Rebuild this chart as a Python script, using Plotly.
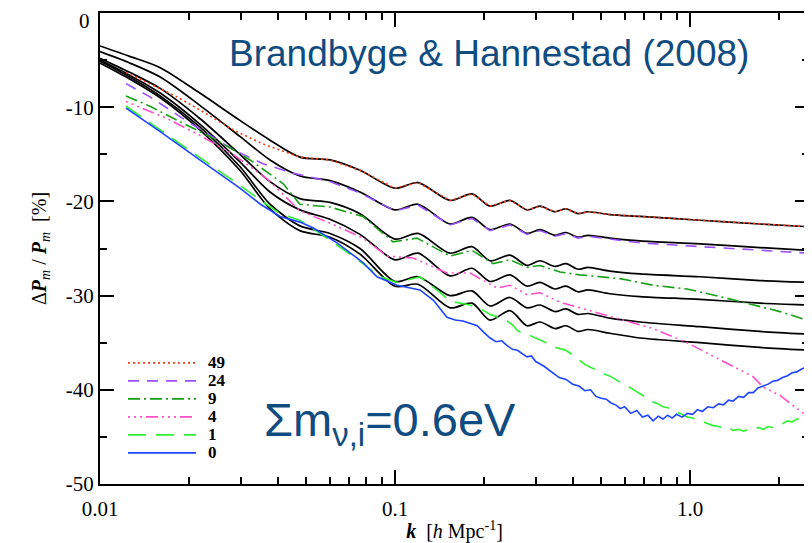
import plotly.graph_objects as go

# ---------------- data ----------------
# linear-theory (black) curves, common k grid  [h/Mpc]
K_LIN = [0.0100, 0.0126, 0.0160, 0.0218, 0.0298, 0.0377, 0.0476, 0.0602, 0.0761, 0.1000,
         0.1197, 0.1537, 0.1824, 0.2099, 0.2454, 0.2803, 0.3101, 0.3487, 0.3799, 0.4173,
         0.4511, 0.5356, 0.6770, 1.081, 1.727, 2.55]
LIN_49 = [-3.5, -4.6, -5.8, -8.5, -11.4, -13.5, -15.3, -15.6, -16.7, -18.6, -18.0, -19.9, -19.2,
          -20.5, -19.9, -20.9, -20.5, -21.1, -20.8, -21.3, -21.1, -21.4, -21.6, -22.0, -22.4, -22.7]
LIN_24 = [-4.1, -5.3, -6.8, -9.8, -13.1, -15.6, -17.3, -17.8, -19.0, -20.9, -20.3, -22.4, -21.7,
          -23.0, -22.4, -23.4, -23.0, -23.6, -23.3, -23.8, -23.6, -23.9, -24.2, -24.5, -24.9, -25.2]
LIN_9 = [-4.8, -6.3, -8.0, -11.2, -15.0, -17.9, -19.7, -20.1, -21.3, -24.0, -23.4, -25.5, -24.8,
         -26.3, -25.7, -26.8, -26.3, -26.9, -26.6, -27.2, -27.0, -27.4, -27.7, -28.0, -28.4, -28.6]
LIN_4 = [-5.0, -6.6, -8.5, -11.8, -15.8, -19.0, -20.9, -21.9, -23.5, -26.2, -25.5, -27.9, -27.1,
         -28.5, -27.8, -29.0, -28.6, -29.3, -29.0, -29.6, -29.4, -29.8, -30.1, -30.4, -30.8, -31.0]
LIN_1 = [-5.1, -6.8, -8.8, -12.1, -16.3, -20.3, -22.6, -23.4, -25.0, -28.5, -28.0, -30.0, -29.5,
         -31.1, -30.2, -31.3, -31.0, -31.7, -31.4, -32.0, -31.9, -32.4, -32.8, -33.3, -33.8, -34.1]
LIN_0 = [-5.3, -7.0, -9.0, -12.4, -16.7, -20.8, -23.1, -23.8, -25.6, -29.0, -28.8, -31.3, -30.8,
         -32.6, -31.6, -33.2, -32.8, -33.5, -33.2, -33.8, -33.6, -34.0, -34.5, -35.0, -35.5, -35.8]

# N-body (coloured) curves
K_49 = [0.01225, 0.01477, 0.01824, 0.02183, 0.02824, 0.03568, 0.04511, 0.0476] + K_LIN[7:]
SIM_49 = [-6.3, -7.5, -8.9, -10.3, -12.4, -13.9, -15.0, -15.3] + [
    -15.6, -16.7, -18.6, -18.0, -19.9, -19.2, -20.5, -19.9, -20.9, -20.5, -21.1, -20.8,
    -21.3, -21.1, -21.4, -21.6, -22.0, -22.4, -22.7]

K_24 = [0.01225, 0.01477, 0.01867, 0.02305, 0.02824, 0.03568, 0.04511, 0.0602, 0.0761, 0.1000,
        0.1197, 0.1537, 0.1824, 0.2099, 0.2454, 0.2803, 0.3101, 0.3487, 0.3799, 0.4173,
        0.4511, 0.5356, 0.6770, 1.081, 1.727, 2.55]
SIM_24 = [-7.5, -8.9, -11.0, -12.8, -14.5, -16.0, -17.0, -17.9, -19.1, -21.0, -20.4, -22.5, -21.8,
          -23.1, -22.5, -23.5, -23.1, -23.7, -23.4, -23.9, -23.7, -24.0, -24.4, -24.8, -25.2, -25.5]

K_9 = [0.01225, 0.01477, 0.01911, 0.02493, 0.03225, 0.04172, 0.0476, 0.0602, 0.0779, 0.0985,
       0.1188, 0.1537, 0.1824, 0.2149, 0.2454, 0.2803, 0.3101, 0.3626, 0.4239, 0.4954,
       0.5790, 0.7492, 0.9768, 1.264, 1.635, 2.019, 2.49]
SIM_9 = [-8.8, -9.9, -11.7, -13.5, -15.6, -18.1, -20.3, -20.6, -21.6, -24.3, -23.9, -25.8, -25.2,
         -26.6, -26.2, -27.0, -26.8, -27.5, -27.8, -28.0, -28.2, -28.9, -29.3, -30.1, -31.0, -31.7, -32.6]

K_4 = [0.01225, 0.01687, 0.02183, 0.02824, 0.03683, 0.0476, 0.0602, 0.0779, 0.0940, 0.1151,
       0.1500, 0.1796, 0.2217, 0.2454, 0.2803, 0.3101, 0.3626, 0.4239, 0.5356, 0.6410,
       0.7492, 0.9768, 1.264, 1.635, 1.768, 2.019, 2.49]
SIM_4 = [-9.4, -11.2, -13.0, -15.0, -17.6, -21.0, -22.3, -23.9, -25.8, -26.0, -27.6, -27.6, -29.2,
         -28.9, -29.9, -29.7, -30.7, -31.3, -32.2, -32.9, -33.5, -35.0, -36.8, -38.6, -39.7, -40.6, -42.8]

K_HI = [0.16, 0.17, 0.18, 0.19, 0.20, 0.21, 0.22, 0.23, 0.24, 0.25, 0.26, 0.27, 0.28, 0.29, 0.30,
        0.32, 0.34, 0.36, 0.38, 0.40, 0.42, 0.44, 0.46, 0.48, 0.50, 0.52, 0.54, 0.56, 0.58, 0.60,
        0.63, 0.66, 0.69, 0.72, 0.75, 0.78, 0.81, 0.84, 0.87, 0.90, 0.94, 0.98, 1.02, 1.06, 1.10,
        1.15, 1.20, 1.25, 1.30, 1.35, 1.40, 1.46, 1.52, 1.58, 1.64, 1.70, 1.77, 1.84, 1.91, 1.98,
        2.06, 2.14, 2.22, 2.30, 2.39, 2.48, 2.53]

K_1_LO = [0.01225, 0.0160, 0.0218, 0.0298, 0.0362, 0.0408, 0.0476, 0.0602, 0.0779, 0.0890,
          0.1016, 0.1215, 0.1400, 0.1537, 0.1796]
SIM_1_LO = [-9.9, -12.4, -15.3, -18.3, -20.2, -21.3, -22.0, -24.1, -26.6, -28.0, -28.6, -28.0,
            -29.5, -30.6, -31.0]
SIM_1_HI = [-31.6, -32.0, -32.2, -32.6, -32.7, -33.1, -33.7, -34.0, -34.1, -34.3, -34.5,
            -34.9, -35.4, -35.6, -35.8, -36.3, -36.8, -37.3, -37.6, -37.9, -38.1, -38.4, -38.6,
            -38.9, -39.2, -39.5, -39.8, -40.2, -40.5, -40.9, -41.3, -41.5, -41.8, -41.9, -42.1,
            -42.4, -42.6, -42.9, -43.0, -43.2, -43.4, -43.6, -43.8, -43.9, -44.1, -44.0, -44.3,
            -44.2, -44.4, -44.2, -44.3, -44.0, -44.2, -43.9, -44.0, -43.7, -43.6, -43.3, -43.4,
            -43.1, -43.2, -42.9, -43.0]
K_1_HI = K_HI[4:]

K_0_LO = [0.01225, 0.0160, 0.0218, 0.0298, 0.0350, 0.0408, 0.0476, 0.0527, 0.0636, 0.0779,
          0.0869, 0.1016, 0.1215, 0.1350, 0.1500]
SIM_0_LO = [-10.1, -12.6, -15.6, -18.6, -20.3, -21.6, -22.2, -22.8, -24.4, -26.5, -28.0, -28.9,
            -29.4, -30.5, -32.3]
SIM_0_HI = [-32.6, -32.7, -33.0, -33.2, -33.9, -34.5, -34.9, -34.8, -35.3, -35.7, -35.8, -36.2,
            -36.5, -36.4, -37.0, -37.5, -38.1, -38.7, -38.9, -39.4, -39.6, -40.1, -40.0, -40.7,
            -40.9, -41.0, -41.4, -41.6, -42.0, -41.8, -42.5, -42.2, -42.9, -42.7, -43.3, -42.8,
            -43.1, -42.7, -43.0, -42.6, -42.9, -42.5, -42.6, -42.1, -42.3, -41.8, -41.9, -41.5,
            -41.6, -41.1, -41.2, -40.7, -40.8, -40.3, -40.3, -39.8, -39.6, -39.4, -39.1, -39.0,
            -38.7, -38.5, -38.2, -38.1, -37.8, -37.6, -37.4]

LEGEND_LABELS = ["49", "24", "9", "4", "1", "0"]
Y_TICKS = [0, -10, -20, -30, -40, -50]
Y_TICK_TEXT = ["", "-10", "-20", "-30", "-40", "-50"]   # "0" drawn as an annotation (see below)
X_TICKS = [0.01, 0.1, 1.0]
X_TICK_TEXT = ["0.01", "0.1", "1.0"]
X_MINOR = [0.02, 0.03, 0.04, 0.05, 0.06, 0.07, 0.08, 0.09,
           0.2, 0.3, 0.4, 0.5, 0.6, 0.7, 0.8, 0.9, 2.0]

# ---------------- styles ----------------
SIM_STYLE = [
    ("#ff3a14", "2px,3px"),
    ("#9b50ff", "11px,8px"),
    ("#16a016", "12px,4px,2px,4px"),
    ("#ff4fc8", "2px,4px,2px,4px,2px,4px,12px,4px"),
    ("#2ef02e", "18px,10px"),
    ("#1f45ff", "solid"),
]

fig = go.Figure()

for yv in [LIN_49, LIN_24, LIN_9, LIN_4, LIN_1, LIN_0]:
    fig.add_trace(go.Scatter(x=K_LIN, y=yv, mode="lines", showlegend=False,
                             line=dict(color="black", width=1.7, shape="spline", smoothing=0.8),
                             hoverinfo="skip"))

sims = [
    (K_49, SIM_49),
    (K_24, SIM_24),
    (K_9, SIM_9),
    (K_4, SIM_4),
    (K_1_LO + K_1_HI, SIM_1_LO + SIM_1_HI),
    (K_0_LO + K_HI, SIM_0_LO + SIM_0_HI),
]
for (kx, yv), (col, dash), lab in zip(sims, SIM_STYLE, LEGEND_LABELS):
    fig.add_trace(go.Scatter(x=kx, y=yv, mode="lines", name=lab, showlegend=False,
                             line=dict(color=col, width=1.6, dash=dash)))

# manual legend (lines + bold labels) inside the plot
shapes = []
annotations = []
leg_y0 = 0.257
leg_dy = 0.0382
for i, ((col, dash), lab) in enumerate(zip(SIM_STYLE, LEGEND_LABELS)):
    yy = leg_y0 - i * leg_dy
    shapes.append(dict(type="line", xref="paper", yref="paper", x0=0.0395, x1=0.1354,
                       y0=yy, y1=yy, line=dict(color=col, width=1.8, dash=dash)))
    annotations.append(dict(xref="paper", yref="paper", x=0.150, y=yy, text="<b>%s</b>" % lab,
                            showarrow=False, xanchor="left", yanchor="middle",
                            font=dict(family="Liberation Serif", size=17, color="black")))

annotations.append(dict(xref="paper", yref="paper", x=0.549, y=0.913,
                        text="Brandbyge &amp; Hannestad (2008)", showarrow=False,
                        xanchor="center", yanchor="middle",
                        font=dict(family="Liberation Sans", size=37, color="#0f4c81")))
annotations.append(dict(xref="paper", yref="paper", x=0.228, y=0.13,
                        text="Σm<sub>ν,i</sub>=0.6eV", showarrow=False,
                        xanchor="left", yanchor="middle",
                        font=dict(family="Liberation Sans", size=47, color="#0f4c81")))
# top y tick label "0" (sits just below the top edge of the figure)
annotations.append(dict(xref="paper", yref="paper", x=-0.011, y=0.984, text="0",
                        showarrow=False, xanchor="right", yanchor="middle",
                        font=dict(family="Liberation Serif", size=21, color="black")))

tickfont = dict(family="Liberation Serif", size=21, color="black")
# the page body adds an 8px offset, so the figure is sized to land the plot
# area on the same screen pixels as the reference
fig.update_layout(
    width=804, height=535,
    margin=dict(l=92, r=3, t=5, b=59),
    paper_bgcolor="white", plot_bgcolor="white",
    shapes=shapes, annotations=annotations,
    xaxis=dict(type="log", range=[-2, 0.4034], tickvals=X_TICKS, ticktext=X_TICK_TEXT,
               automargin=False, ticklabelstandoff=5,
               ticks="inside", ticklen=14, tickwidth=1.5, tickcolor="black",
               showline=True, linewidth=2, linecolor="black", mirror="allticks",
               showgrid=False, zeroline=False, tickfont=tickfont,
               minor=dict(tickvals=X_MINOR, ticks="inside", ticklen=7, tickwidth=1.5,
                          tickcolor="black", showgrid=False),
               title=dict(text="<b><i>k</i></b>  [<i>h</i> Mpc<sup>-1</sup>]",
                          font=dict(family="Liberation Serif", size=20, color="black"),
                          standoff=0)),
    yaxis=dict(range=[-50, 0], tickvals=Y_TICKS, ticktext=Y_TICK_TEXT,
               automargin=False,
               ticks="inside", ticklen=14, tickwidth=1.5, tickcolor="black",
               showline=True, linewidth=2, linecolor="black", mirror="allticks",
               showgrid=False, zeroline=False, tickfont=tickfont,
               minor=dict(dtick=5, ticks="inside", ticklen=7, tickwidth=1.5,
                          tickcolor="black", showgrid=False),
               title=dict(text="Δ<b><i>P</i></b><sub><i>m</i></sub> / <b><i>P</i></b><sub><i>m</i></sub>  [%]",
                          font=dict(family="Liberation Serif", size=20, color="black"),
                          standoff=14)),
)

fig.write_html("out.html")
